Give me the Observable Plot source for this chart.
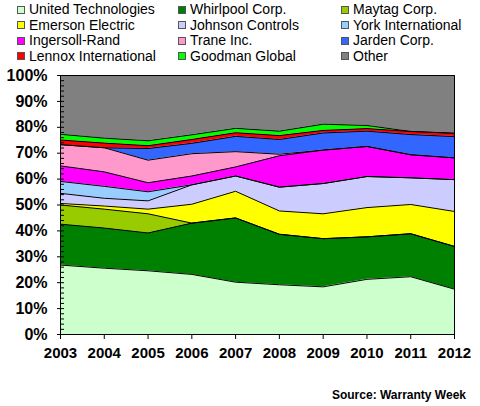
<!DOCTYPE html>
<html>
<head>
<meta charset="utf-8">
<script src="https://cdn.jsdelivr.net/npm/d3@7"></script>
<script src="https://cdn.jsdelivr.net/npm/@observablehq/plot@0.6"></script>
<style>
  html, body { margin: 0; padding: 0; background: #fff; }
  body { width: 480px; height: 406px; overflow: hidden; font-family: "Liberation Sans", Arial, sans-serif; color: #000; }
  #legend { height: 66px; box-sizing: border-box; padding: 2px 0 0 17px; display: grid;
            grid-template-columns: 161px 163px 1fr; grid-auto-rows: 15.5px; }
  .item { display: flex; align-items: center; font-size: 14px; line-height: 15.5px; white-space: nowrap; }
  .sw { width: 6px; height: 6px; border: 1px solid #555; margin-right: 4px; flex: none; }
  #chart svg { display: block; }
  #source { text-align: right; padding-right: 14px; margin-top: 22px; font-size: 12px; font-weight: bold; line-height: 14px; }
</style>
</head>
<body>
<div id="legend"></div>
<div id="chart"></div>
<div id="source">Source: Warranty Week</div>
<script>
const years = [2003, 2004, 2005, 2006, 2007, 2008, 2009, 2010, 2011, 2012];
const companies = ["United Technologies", "Whirlpool Corp.", "Maytag Corp.", "Emerson Electric",
  "Johnson Controls", "York International", "Ingersoll-Rand", "Trane Inc.", "Jarden Corp.",
  "Lennox International", "Goodman Global", "Other"];
const colors = ["#CCFFCC", "#008000", "#99CC00", "#FFFF00", "#CCCCFF", "#99CCFF",
  "#FF00FF", "#FF99CC", "#3366FF", "#FF0000", "#00FF00", "#808080"];

const unitedTechnologies = [26.8, 25.6, 24.6, 23.2, 20.2, 19.2, 18.4, 21.3, 22.3, 17.5];
const whirlpool          = [15.8, 15.5, 14.6, 19.8, 24.8, 19.5, 18.6, 16.4, 16.6, 16.5];
const maytag             = [7.4, 7.3, 7.4, 0, 0, 0, 0, 0, 0, 0];
const emerson            = [0.6, 1.2, 1.8, 7.3, 10.3, 9.0, 9.6, 11.3, 11.3, 13.5];
const johnsonControls    = [3.9, 3.0, 3.2, 7.5, 5.9, 9.2, 11.7, 12.0, 10.3, 12.3];
const york               = [4.6, 4.6, 3.5, 0, 0, 0, 0, 0, 0, 0];
const ingersollRand      = [6.0, 5.6, 3.5, 3.4, 3.5, 12.1, 12.9, 11.6, 8.9, 8.4];
const trane              = [8.2, 9.3, 8.7, 8.6, 5.9, 0.6, 0, 0, 0, 0];
const jarden             = [0, 0, 4.5, 4.0, 5.9, 5.7, 6.6, 5.9, 7.8, 8.2];
const lennox             = [1.8, 1.8, 1.1, 1.5, 1.4, 1.5, 1.0, 1.0, 1.2, 1.3];
const goodman            = [2.2, 1.9, 1.9, 1.8, 1.7, 1.7, 2.4, 1.2, 0, 0];
const other              = [22.7, 24.2, 25.2, 22.9, 20.4, 21.5, 18.8, 19.3, 21.6, 22.3];

const yTicks = [0, 10, 20, 30, 40, 50, 60, 70, 80, 90, 100];
const yMinorTicks = d3.range(0, 101, 2);

const series = [unitedTechnologies, whirlpool, maytag, emerson, johnsonControls, york,
  ingersollRand, trane, jarden, lennox, goodman, other];
const data = [];
companies.forEach((c, i) => years.forEach((yr, j) => data.push({company: c, year: yr, value: series[i][j]})));

// legend (row-major, 3 columns)
const legend = document.getElementById("legend");
companies.forEach((c, i) => {
  const item = document.createElement("div");
  item.className = "item";
  const sw = document.createElement("span");
  sw.className = "sw";
  sw.style.background = colors[i];
  item.appendChild(sw);
  item.appendChild(document.createTextNode(c));
  legend.appendChild(item);
});

const chart = Plot.plot({
  width: 480,
  height: 300,
  marginLeft: 60,
  marginRight: 26,
  marginTop: 9,
  marginBottom: 32,
  style: {fontFamily: "'Liberation Sans', Arial, sans-serif", color: "#000", background: "#fff"},
  x: {domain: [2003, 2012], axis: null, label: null},
  y: {domain: [0, 100], axis: null, label: null},
  color: {domain: companies, range: colors},
  marks: [
    Plot.areaY(data, Plot.stackY({x: "year", y: "value", z: "company", fill: "company", order: companies})),
    Plot.lineY(data, Plot.stackY2({x: "year", y: "value", z: "company", order: companies, stroke: "#000", strokeWidth: 1})),
    Plot.frame({stroke: "#000", strokeWidth: 1}),
    Plot.axisY({ticks: yMinorTicks, tickSize: 4, dx: 4, tickFormat: () => "", label: null, stroke: "#000"}),
    Plot.axisY({ticks: yTicks, tickSize: 3, tickPadding: 10, tickFormat: d => d + "%", label: null, fontSize: 16, fontWeight: "bold", stroke: "#000", fill: "#000"}),
    Plot.axisX({ticks: years, tickSize: 5, tickPadding: 8, tickFormat: d => String(d), label: null, fontSize: 15, fontWeight: "bold", stroke: "#000", fill: "#000"})
  ]
});
document.getElementById("chart").appendChild(chart);
</script>
</body>
</html>
